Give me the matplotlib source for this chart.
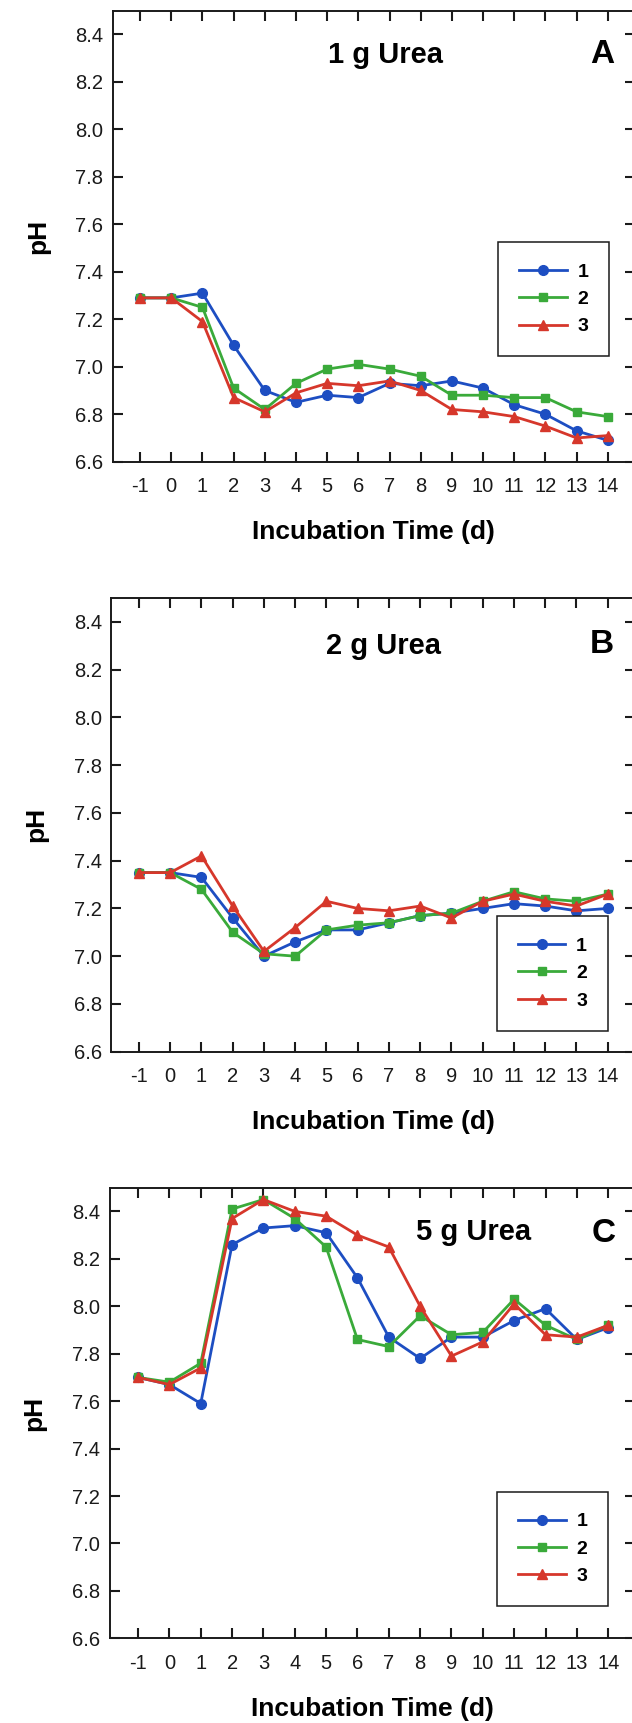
import matplotlib
matplotlib.use("Agg")
import matplotlib.pyplot as plt

# ---------------- data ----------------
days = [-1, 0, 1, 2, 3, 4, 5, 6, 7, 8, 9, 10, 11, 12, 13, 14]
series_labels = ["1", "2", "3"]

ph_1g_s1 = [7.29, 7.29, 7.31, 7.09, 6.90, 6.85, 6.88, 6.87, 6.93, 6.92, 6.94, 6.91, 6.84, 6.80, 6.73, 6.69]
ph_1g_s2 = [7.29, 7.29, 7.25, 6.91, 6.82, 6.93, 6.99, 7.01, 6.99, 6.96, 6.88, 6.88, 6.87, 6.87, 6.81, 6.79]
ph_1g_s3 = [7.29, 7.29, 7.19, 6.87, 6.81, 6.89, 6.93, 6.92, 6.94, 6.90, 6.82, 6.81, 6.79, 6.75, 6.70, 6.71]

ph_2g_s1 = [7.35, 7.35, 7.33, 7.16, 7.00, 7.06, 7.11, 7.11, 7.14, 7.17, 7.18, 7.20, 7.22, 7.21, 7.19, 7.20]
ph_2g_s2 = [7.35, 7.35, 7.28, 7.10, 7.01, 7.00, 7.11, 7.13, 7.14, 7.17, 7.18, 7.23, 7.27, 7.24, 7.23, 7.26]
ph_2g_s3 = [7.35, 7.35, 7.42, 7.21, 7.02, 7.12, 7.23, 7.20, 7.19, 7.21, 7.16, 7.23, 7.26, 7.23, 7.21, 7.26]

ph_5g_s1 = [7.70, 7.67, 7.59, 8.26, 8.33, 8.34, 8.31, 8.12, 7.87, 7.78, 7.87, 7.87, 7.94, 7.99, 7.86, 7.91]
ph_5g_s2 = [7.70, 7.68, 7.76, 8.41, 8.45, 8.37, 8.25, 7.86, 7.83, 7.96, 7.88, 7.89, 8.03, 7.92, 7.86, 7.92]
ph_5g_s3 = [7.70, 7.67, 7.74, 8.37, 8.45, 8.40, 8.38, 8.30, 8.25, 8.00, 7.79, 7.85, 8.01, 7.88, 7.87, 7.92]

panel_titles = ["1 g Urea", "2 g Urea", "5 g Urea"]
panel_letters = ["A", "B", "C"]
yticks = [6.6, 6.8, 7.0, 7.2, 7.4, 7.6, 7.8, 8.0, 8.2, 8.4]
xlabel_text = "Incubation Time (d)"
ylabel_text = "pH"

# ---------------- style ----------------
plt.rcParams["font.family"] = ["Liberation Sans", "DejaVu Sans"]
colors = ["#1d4ec2", "#3aaa3a", "#d6372b"]
markers = ["o", "s", "^"]
msizes = [7.0, 6.3, 7.5]

fig = plt.figure(figsize=(6.32, 17.23), dpi=100)

# axes boxes [left, bottom, width, height] in figure fractions
boxes = [
    [0.1783, 0.73204, 0.8257, 0.26181],
    [0.1764, 0.38961, 0.8276, 0.26332],
    [0.1733, 0.04916, 0.8307, 0.26152],
]
xlims = [(-1.88, 14.86), (-1.88, 14.86), (-1.91, 14.84)]
title_pos = [(6.87, 8.278), (6.83, 8.266), (9.69, 8.278)]
letter_pos = [(13.82, 8.28), (13.82, 8.268), (13.84, 8.272)]
legend_anchor = [(10.48, 7.525), (10.45, 7.167), (10.45, 7.218)]

panels = [
    (ph_1g_s1, ph_1g_s2, ph_1g_s3),
    (ph_2g_s1, ph_2g_s2, ph_2g_s3),
    (ph_5g_s1, ph_5g_s2, ph_5g_s3),
]

for i, data in enumerate(panels):
    ax = fig.add_axes(boxes[i])
    for j, ys in enumerate(data):
        ax.plot(days, ys, color=colors[j], marker=markers[j], markersize=msizes[j],
                linewidth=2.0, label=series_labels[j], clip_on=False, zorder=3 + j)
    ax.set_xlim(*xlims[i])
    ax.set_ylim(6.6, 8.5)
    ax.set_xticks(days)
    ax.set_xticklabels([str(d) for d in days])
    ax.set_yticks(yticks)
    ax.set_yticklabels([f"{v:.1f}" for v in yticks])
    ax.tick_params(axis="both", which="major", direction="in", length=7.5, width=1.5,
                   top=True, right=True, labelsize=14.5, colors="#1a1a1a")
    ax.tick_params(axis="x", pad=11)
    ax.tick_params(axis="y", pad=7)
    for sp in ax.spines.values():
        sp.set_linewidth(1.4)
        sp.set_color("#1a1a1a")
    ax.set_xlabel(xlabel_text, fontsize=19, fontweight="bold", labelpad=17.5)
    ax.set_ylabel(ylabel_text, fontsize=19, fontweight="bold", labelpad=18)
    ax.text(title_pos[i][0], title_pos[i][1], panel_titles[i], fontsize=21,
            fontweight="bold", ha="center", va="baseline")
    ax.text(letter_pos[i][0], letter_pos[i][1], panel_letters[i], fontsize=24,
            fontweight="bold", ha="center", va="baseline")
    leg = ax.legend(loc="upper left", bbox_to_anchor=legend_anchor[i],
                    bbox_transform=ax.transData, borderaxespad=0,
                    prop={"weight": "bold", "size": 14}, numpoints=1,
                    handlelength=2.45, handletextpad=0.55, borderpad=1.08,
                    labelspacing=0.5, fancybox=False, framealpha=1,
                    edgecolor="#1a1a1a")
    leg.get_frame().set_linewidth(1.1)

fig.savefig("out.png", dpi=100)
